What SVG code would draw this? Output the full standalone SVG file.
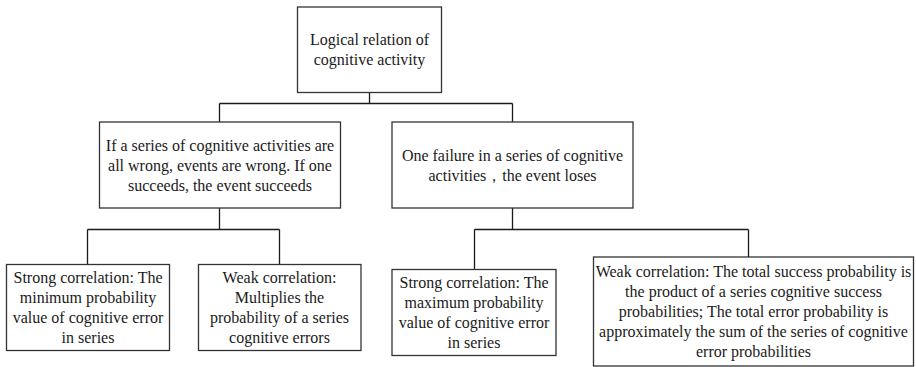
<svg xmlns="http://www.w3.org/2000/svg" width="916" height="367" viewBox="0 0 916 367">
  <style>
    .box { fill: #ffffff; stroke: #333333; stroke-width: 1.3; }
    .lbl { font-family: 'Liberation Serif', 'Times New Roman', Times, 'DejaVu Serif', serif; font-size: 16px; fill: #1a1a1a; text-anchor: middle; }
    .wire { fill: none; stroke: #1a1a1a; stroke-width: 1.3; }
  </style>
  <rect width="916" height="367" fill="#ffffff"/>

  <!-- tree connectors -->
  <g id="connectors">
    <path class="wire" d="M369.5 92.5 V103.5 M219.5 103.5 H512.5 M219.5 103.5 V122 M512.5 103.5 V122"/>
    <path class="wire" d="M219.5 208 V229.5 M87.5 229.5 H279.5 M87.5 229.5 V264.5 M279.5 229.5 V264.5"/>
    <path class="wire" d="M512.5 208 V229.5 M474.5 229.5 H748.5 M474.5 229.5 V269.5 M748.5 229.5 V257"/>
  </g>

  <g id="root">
    <rect class="box" x="297.5" y="7" width="144" height="85.5"/>
    <text class="lbl" x="369.5" y="45">Logical relation of</text>
    <text class="lbl" x="369.5" y="65">cognitive activity</text>
  </g>

  <g id="any-success">
    <rect class="box" x="99.5" y="122" width="241" height="86"/>
    <text class="lbl" x="220" y="150.5">If a series of cognitive activities are</text>
    <text class="lbl" x="220" y="170.5">all wrong, events are wrong. If one</text>
    <text class="lbl" x="220" y="190.5">succeeds, the event succeeds</text>
  </g>

  <g id="any-failure">
    <rect class="box" x="392" y="122" width="241" height="86"/>
    <text class="lbl" x="512.5" y="160.5">One failure in a series of cognitive</text>
    <text class="lbl" x="512.5" y="180.5">activities，the event loses</text>
  </g>

  <g id="strong-min">
    <rect class="box" x="6.5" y="264.5" width="163" height="86"/>
    <text class="lbl" x="88" y="283">Strong correlation: The</text>
    <text class="lbl" x="88" y="303">minimum probability</text>
    <text class="lbl" x="88" y="323">value of cognitive error</text>
    <text class="lbl" x="88" y="343">in series</text>
  </g>

  <g id="weak-product">
    <rect class="box" x="198.5" y="264.5" width="162.5" height="86"/>
    <text class="lbl" x="279.5" y="283">Weak correlation:</text>
    <text class="lbl" x="279.5" y="303">Multiplies the</text>
    <text class="lbl" x="279.5" y="323">probability of a series</text>
    <text class="lbl" x="279.5" y="343">cognitive errors</text>
  </g>

  <g id="strong-max">
    <rect class="box" x="392" y="269.5" width="164" height="86"/>
    <text class="lbl" x="474" y="288">Strong correlation: The</text>
    <text class="lbl" x="474" y="308">maximum probability</text>
    <text class="lbl" x="474" y="328">value of cognitive error</text>
    <text class="lbl" x="474" y="348">in series</text>
  </g>

  <g id="weak-sum">
    <rect class="box" x="593.5" y="257" width="320" height="109"/>
    <text class="lbl" x="753.5" y="276.5">Weak correlation: The total success probability is</text>
    <text class="lbl" x="753.5" y="296.5">the product of a series cognitive success</text>
    <text class="lbl" x="753.5" y="316.5">probabilities; The total error probability is</text>
    <text class="lbl" x="753.5" y="336.5">approximately the sum of the series of cognitive</text>
    <text class="lbl" x="753.5" y="356.5">error probabilities</text>
  </g>
</svg>
